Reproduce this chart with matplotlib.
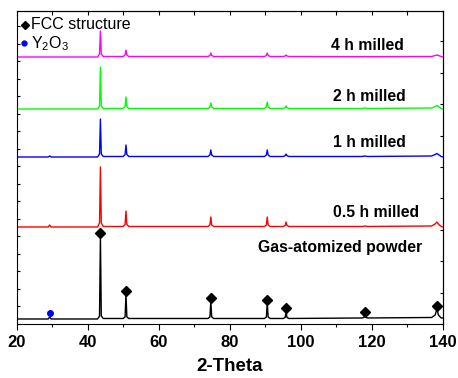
import matplotlib
matplotlib.use("Agg")
import matplotlib.pyplot as plt
from matplotlib.ticker import MultipleLocator

plt.rcParams['font.family'] = ['Liberation Sans', 'DejaVu Sans']
plt.rcParams['mathtext.fontset'] = 'custom'
plt.rcParams['mathtext.rm'] = 'Liberation Sans'

# shared 2-theta grid (degrees)
two_theta = [20, 28.8, 29.2, 29.6, 42.7, 43.25, 43.5, 43.75, 44.3,
             49.9, 50.45, 50.7, 50.95, 51.5, 73.8, 74.35, 74.6, 74.85, 75.4,
             89.7, 90.25, 90.5, 90.75, 91.3, 95.0, 95.55, 95.8, 96.05, 96.6,
             117.2, 117.75, 118.0, 118.25, 118.8, 136.8, 137.8, 138.3, 138.7, 139.5, 140]

# intensities (arbitrary units, offset stacked)
gas_atomized = [5, 5, 7, 5, 5, 8, 88, 8, 5.5,
                5.5, 7, 30, 7, 5.5, 5.5, 7, 23, 7, 5.5,
                5.5, 7, 21, 7, 5.5, 5.5, 6.5, 13, 6.5, 5.5,
                6, 6.5, 9, 6.5, 6, 6.5, 9, 15, 9, 6, 6]
milled_05h = [97, 97, 99, 97, 97, 101, 157, 101, 97.5,
              97.5, 99.5, 113, 99.5, 97.5, 97.5, 99, 107, 99, 97.5,
              97.5, 99, 107, 99, 97.5, 97.5, 98.5, 102, 98.5, 97.5,
              97.5, 97.8, 98, 97.8, 97.5, 98, 100, 102, 100, 97.5, 97]
milled_1h = [167, 167, 168, 167, 167, 170, 205, 170, 167.5,
             167.5, 169.5, 179, 169.5, 167.5, 167.5, 169, 174, 169, 167.5,
             167.5, 169, 174, 169, 167.5, 167.5, 168.3, 170, 168.3, 167.5,
             167.5, 167.8, 168, 167.8, 167.5, 168, 169.5, 170.5, 169.5, 167.5, 167]
milled_2h = [215, 215, 215, 215, 215, 218, 257, 218, 215.5,
             215.5, 217.5, 227, 217.5, 215.5, 215.5, 217, 221, 217, 215.5,
             215.5, 217, 222, 217, 215.5, 215.5, 216.3, 218, 216.3, 215.5,
             215.5, 215.8, 216, 215.8, 215.5, 216, 217.5, 218.5, 217.5, 215.5, 215]
milled_4h = [267, 267, 267, 267, 267, 270, 293, 270, 267.5,
             267.5, 269, 274, 269, 267.5, 267.5, 268.5, 271, 268.5, 267.5,
             267.5, 268.5, 271, 268.5, 267.5, 267.5, 268, 269, 268, 267.5,
             267.3, 267.4, 267.5, 267.4, 267.3, 267.5, 268.5, 269, 268.5, 267.5, 267]

series = [gas_atomized, milled_05h, milled_1h, milled_2h, milled_4h]
colors = ['black', '#FF0000', '#0000FF', '#00FF00', '#FF00FF']

# FCC markers and Y2O3 marker
fcc_pos = [43.5, 50.7, 74.6, 90.5, 95.8, 118.0, 138.3]
fcc_y = [91, 33, 26, 24, 16, 12, 18]
y2o3_pos = [29.2]
y2o3_y = [11]

labels = ['Gas-atomized powder', '0.5 h milled', '1 h milled', '2 h milled', '4 h milled']
label_x = [87.9, 108.9, 108.9, 108.9, 108.5]
label_y = [76, 111, 181, 227, 278]

fig = plt.figure(figsize=(4.58, 3.78), dpi=100)
ax = fig.add_axes([0.0371, 0.1429, 0.9301, 0.828])

for s, c in zip(series, colors):
    ax.plot(two_theta, s, color=c, lw=1.0)

ax.plot(fcc_pos, fcc_y, linestyle='none', marker='D', ms=5, color='black')
ax.plot(y2o3_pos, y2o3_y, linestyle='none', marker='o', ms=4, color='#0000FF')

for t, x, y in zip(labels, label_x, label_y):
    ax.text(x, y, t, fontsize=11.3, fontweight='bold', ha='left', va='center')

# legend-like annotation
ax.plot([22.3], [299], linestyle='none', marker='D', ms=4.5, color='black')
ax.text(24.0, 299, 'FCC structure', fontsize=11.5, va='center', ha='left')
ax.plot([22.0], [281], linestyle='none', marker='o', ms=3.5, color='#0000FF')
ax.text(24.0, 280, r'$\mathregular{Y_2O_3}$', fontsize=11.5, va='center', ha='left')

ax.set_xlim(20, 140)
ax.set_ylim(0, 313)
ax.xaxis.set_major_locator(MultipleLocator(20))
ax.xaxis.set_minor_locator(MultipleLocator(10))
ax.yaxis.set_major_locator(MultipleLocator(17.5))
ax.set_yticklabels([])
ax.tick_params(axis='x', which='major', direction='out', length=4, width=0.8,
               labelsize=12, pad=4)
ax.tick_params(axis='x', which='minor', direction='out', length=2.5, width=0.8)
ax.tick_params(axis='y', which='major', direction='in', length=2.5, width=0.8,
               left=True, right=False)
for lab in ax.get_xticklabels():
    lab.set_fontweight('bold')

# top ticks inward
secx = ax.secondary_xaxis('top')
secx.xaxis.set_major_locator(MultipleLocator(10))
secx.tick_params(direction='in', length=3, width=0.8, labeltop=False)
secx.set_xticklabels([])
# right ticks inward
secy = ax.secondary_yaxis('right')
secy.yaxis.set_major_locator(MultipleLocator(31.4))
secy.tick_params(direction='in', length=2.5, width=0.8)
secy.set_yticklabels([])

ax.set_xlabel('2-Theta', fontsize=13.5, fontweight='bold', labelpad=6)
for sp in ax.spines.values():
    sp.set_linewidth(0.8)

fig.savefig('out.png', dpi=100)
